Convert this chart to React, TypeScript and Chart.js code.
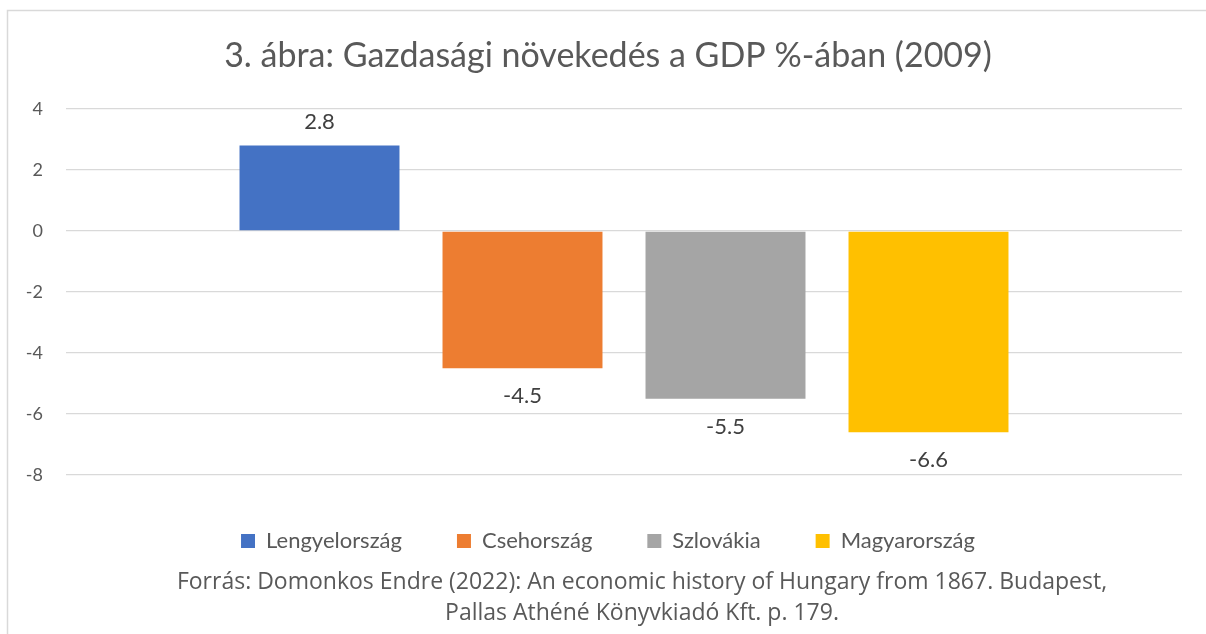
import React, { useEffect, useRef } from "react";
import { Chart, registerables } from "chart.js";

Chart.register(...registerables);

const chartTitle = "3. ábra: Gazdasági növekedés a GDP %-ában (2009)";
const categories = ["2009"];
const seriesNames = ["Lengyelország", "Csehország", "Szlovákia", "Magyarország"];
const seriesValues = [2.8, -4.5, -5.5, -6.6];
const seriesColors = ["#4472C4", "#ED7D31", "#A5A5A5", "#FFC000"];
const yMin = -8;
const yMax = 4;
const yStep = 2;
const sourceLines = [
  "Forrás: Domonkos Endre (2022): An economic history of Hungary from 1867. Budapest,",
  "Pallas Athéné Könyvkiadó Kft. p. 179.",
];

const FONT = "Lato, 'Open Sans', sans-serif";

const borderPlugin = {
  id: "frame",
  beforeDraw(chart: any) {
    const ctx = chart.ctx;
    ctx.save();
    ctx.fillStyle = "#ffffff";
    ctx.fillRect(0, 0, chart.width, chart.height);
    ctx.strokeStyle = "#d9d9d9";
    ctx.lineWidth = 1.5;
    ctx.beginPath();
    ctx.moveTo(7.5, chart.height);
    ctx.lineTo(7.5, 10.5);
    ctx.lineTo(chart.width, 10.5);
    ctx.stroke();
    ctx.restore();
  },
};

// let y tick labels extend to the left without being clipped
const unclipPlugin = {
  id: "unclipY",
  afterLayout(chart: any) {
    const y = chart.scales.y;
    if (y) y.left = 0;
  },
};

const valueLabelPlugin = {
  id: "valueLabels",
  afterDatasetsDraw(chart: any) {
    const ctx = chart.ctx;
    ctx.save();
    ctx.font = `22px ${FONT}`;
    ctx.fillStyle = "#404040";
    ctx.textAlign = "center";
    ctx.textBaseline = "middle";
    chart.data.datasets.forEach((ds: any, i: number) => {
      const meta = chart.getDatasetMeta(i);
      meta.data.forEach((el: any, j: number) => {
        const v = ds.data[j];
        const y = v >= 0 ? el.y - 24 : el.y + 28;
        ctx.fillText(String(v), el.x, y);
      });
    });
    ctx.restore();
  },
};

const sourcePlugin = {
  id: "sourceText",
  afterDraw(chart: any) {
    const ctx = chart.ctx;
    ctx.save();
    ctx.font = `23px 'Open Sans', sans-serif`;
    ctx.fillStyle = "#595959";
    ctx.textAlign = "center";
    ctx.textBaseline = "middle";
    sourceLines.forEach((line, i) => {
      ctx.fillText(line, 642, 582 + i * 31);
    });
    ctx.restore();
  },
};

export default function App() {
  const ref = useRef<HTMLCanvasElement>(null);
  useEffect(() => {
    if (!ref.current) return;
    const chart = new Chart(ref.current, {
      type: "bar",
      data: {
        labels: categories,
        datasets: seriesNames.map((name, i) => ({
          label: name,
          data: [seriesValues[i]],
          backgroundColor: seriesColors[i],
          borderWidth: 0,
          categoryPercentage: 0.7276,
          barPercentage: 0.788,
        })),
      },
      options: {
        responsive: false,
        animation: false,
        devicePixelRatio: 1,
        layout: { padding: { left: 34, right: 24, top: 0, bottom: 72 } },
        scales: {
          x: { display: false },
          y: {
            min: yMin,
            max: yMax,
            ticks: {
              stepSize: yStep,
              padding: 23,
              color: "#595959",
              font: { family: FONT, size: 18 },
            },
            grid: { color: "#d9d9d9", lineWidth: 1.3, drawTicks: false },
            border: { display: false },
            afterFit: (s: any) => {
              s.width = 32;
            },
          },
        },
        plugins: {
          title: {
            display: true,
            text: chartTitle,
            color: "#595959",
            font: { family: FONT, size: 34, weight: "normal", lineHeight: 1.2 },
            padding: { top: 35.6, bottom: 32.6 },
          },
          legend: {
            display: true,
            position: "bottom",
            labels: {
              boxWidth: 14,
              boxHeight: 14,
              padding: 55,
              color: "#595959",
              font: { family: FONT, size: 22 },
            },
          },
          tooltip: { enabled: false },
        },
      },
      plugins: [borderPlugin, unclipPlugin, valueLabelPlugin, sourcePlugin],
    });
    return () => chart.destroy();
  }, []);
  return (
    <div style={{ position: "absolute", left: 0, top: 0, width: 1206, height: 634 }}>
      <canvas ref={ref} width={1206} height={634} style={{ width: 1206, height: 634 }} />
    </div>
  );
}
